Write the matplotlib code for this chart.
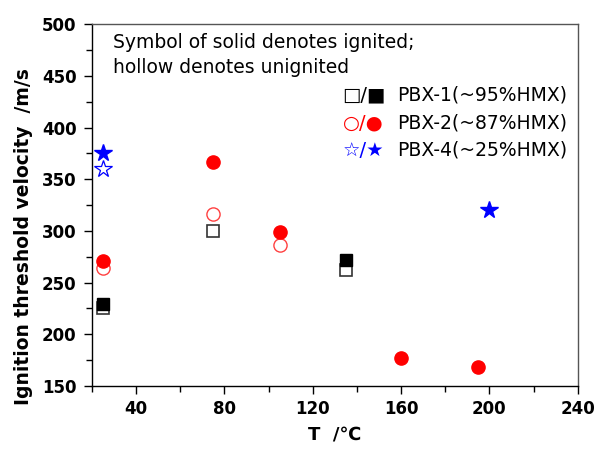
import matplotlib.pyplot as plt
import numpy as np
from matplotlib.ticker import MultipleLocator

plt.rcParams['font.family'] = ['DejaVu Sans']

# PBX-1 (~95% HMX)
pbx1_T_hollow = [25, 75, 135]
pbx1_v_hollow = [225, 300, 262]
pbx1_T_solid = [25, 135]
pbx1_v_solid = [229, 272]

# PBX-2 (~87% HMX)
pbx2_T_hollow = [25, 75, 105]
pbx2_v_hollow = [264, 316, 286]
pbx2_T_solid = [25, 75, 105, 160, 195]
pbx2_v_solid = [271, 367, 299, 177, 168]

# PBX-4 (~25% HMX)
pbx4_T_hollow = [25]
pbx4_v_hollow = [360]
pbx4_T_solid = [25, 200]
pbx4_v_solid = [375, 320]

legend_syms = ["\u25a1/\u25a0", "\u25cb/\u25cf", "\u2606/\u2605"]
legend_names = ["PBX-1(~95%HMX)", "PBX-2(~87%HMX)", "PBX-4(~25%HMX)"]
legend_cols = ["black", "red", "blue"]

fig = plt.figure(figsize=(5.95, 4.5), dpi=100)
ax = fig.add_axes([0.1546, 0.1422, 0.8164, 0.804])

ax.plot(pbx1_T_hollow, pbx1_v_hollow, 's', ms=8, mfc='white', mec='#333333', mew=1.2, ls='none')
ax.plot(pbx1_T_solid, pbx1_v_solid, 's', ms=8, mfc='black', mec='black', ls='none')
ax.plot(pbx2_T_hollow, pbx2_v_hollow, 'o', ms=9.5, mfc='white', mec='#ff4040', mew=1.0, ls='none')
ax.plot(pbx2_T_solid, pbx2_v_solid, 'o', ms=9.5, mfc='red', mec='red', ls='none')
ax.plot(pbx4_T_hollow, pbx4_v_hollow, '*', ms=13, mfc='white', mec='blue', mew=0.9, ls='none')
ax.plot(pbx4_T_solid, pbx4_v_solid, '*', ms=13, mfc='blue', mec='blue', ls='none')

ax.set_xlim(20, 240)
ax.set_ylim(150, 500)
ax.xaxis.set_major_locator(MultipleLocator(40))
ax.xaxis.set_minor_locator(MultipleLocator(20))
ax.yaxis.set_major_locator(MultipleLocator(50))
ax.yaxis.set_minor_locator(MultipleLocator(25))
ax.set_xticks([40, 80, 120, 160, 200, 240])
ax.tick_params(which='both', direction='out', top=False, right=False)
ax.tick_params(which='major', length=6, width=1, pad=4)
ax.tick_params(axis='y', which='major', pad=5)
ax.tick_params(which='minor', length=4, width=1)
for lbl in ax.get_xticklabels() + ax.get_yticklabels():
    lbl.set_fontsize(12)
    lbl.set_fontweight('bold')
for s in ax.spines.values():
    s.set_linewidth(1.0)
ax.spines['right'].set_color('#555555')
ax.spines['top'].set_color('#555555')

ax.set_xlabel("T  /\u2103", fontsize=13, fontweight='bold')
ax.xaxis.set_label_coords(0.5, -0.11)
ax.set_ylabel("Ignition threshold velocity  /m/s", fontsize=13.5, fontweight='bold')
ax.yaxis.set_label_coords(-0.122, 0.414)

ax.text(0.043, 0.975, "Symbol of solid denotes ignited;\nhollow denotes unignited",
        transform=ax.transAxes, fontsize=13.5, va='top', ha='left', linespacing=1.4)

for i in range(3):
    yy = 0.804 - i * 0.076
    ax.text(0.516, yy, legend_syms[i], color=legend_cols[i], transform=ax.transAxes,
            fontsize=14, va='center', ha='left')
    ax.text(0.628, yy, legend_names[i], color='black', transform=ax.transAxes,
            fontsize=13.5, va='center', ha='left')

fig.savefig("out.png", dpi=100)
